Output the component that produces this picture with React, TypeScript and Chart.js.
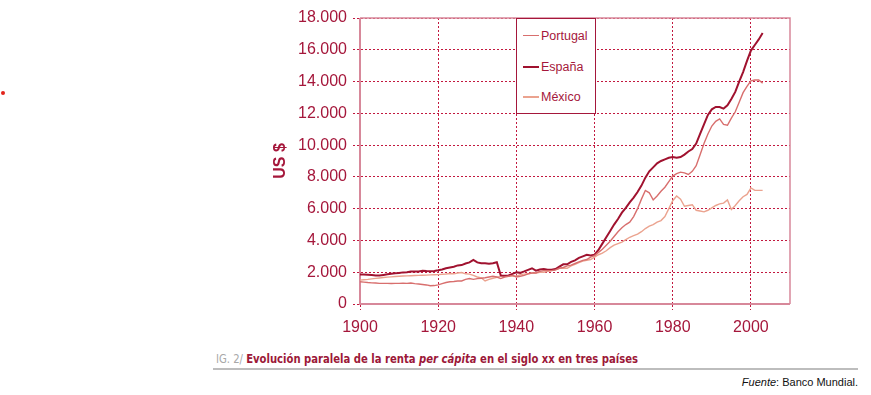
import React, { useEffect, useRef } from "react";
import { Chart, registerables } from "chart.js";

Chart.register(...registerables);

const years: number[] = Array.from({ length: 104 }, (_, i) => 1900 + i);

const espana: number[] = [
  1850, 1860, 1840, 1820, 1800, 1790, 1830, 1870, 1910, 1940,
  1950, 1990, 2000, 2040, 2050, 2050, 2090, 2070, 2060, 2080,
  2120, 2170, 2250, 2300, 2350, 2430, 2450, 2550, 2620, 2780,
  2620, 2560, 2560, 2530, 2560, 2630, 1800, 1780, 1800, 1900,
  1990, 1960, 2050, 2150, 2250, 2100, 2170, 2200, 2150, 2150,
  2200, 2350, 2500, 2500, 2650, 2750, 2900, 3000, 3100, 3050,
  3100, 3400, 3800, 4200, 4600, 5000, 5350, 5750, 6050, 6400,
  6700, 7050, 7450, 7950, 8350, 8600, 8850, 9000, 9100, 9200,
  9250, 9200, 9250, 9400, 9600, 9750, 10100, 10700, 11300, 11900,
  12250, 12400, 12400, 12300, 12500, 12900, 13350, 14000, 14600, 15300,
  15950, 16300, 16650, 17050,
];

const portugal: number[] = [
  1400, 1380, 1350, 1330, 1320, 1300, 1300, 1300, 1290, 1300,
  1300, 1310, 1300, 1320, 1280, 1260, 1230, 1200, 1150, 1160,
  1200, 1280, 1350, 1400, 1420, 1450, 1450, 1550, 1600, 1550,
  1600, 1620, 1650, 1700, 1750, 1700, 1600, 1700, 1750, 1800,
  1700, 1750, 1800, 1900, 1950, 1950, 2050, 2100, 2100, 2100,
  2150, 2250, 2300, 2400, 2450, 2550, 2650, 2750, 2800, 2950,
  3050, 3250, 3450, 3700, 3950, 4250, 4550, 4800, 5000, 5150,
  5500, 6000, 6600, 7150, 7000, 6550, 6800, 7100, 7350, 7700,
  8050, 8200, 8300, 8250, 8150, 8350, 8700, 9400, 10100, 10700,
  11200, 11500, 11650, 11300, 11250, 11700, 12100, 12700, 13300, 13700,
  14050, 14100, 14100, 13900,
];

const mexico: number[] = [
  1500, 1530, 1550, 1580, 1610, 1640, 1670, 1690, 1710, 1730,
  1750, 1760, 1770, 1780, 1790, 1800, 1810, 1820, 1830, 1840,
  1850, 1870, 1890, 1920, 1900, 1950, 1980, 1900, 1880, 1800,
  1700, 1650, 1450, 1550, 1620, 1680, 1750, 1780, 1750, 1780,
  1750, 1850, 1880, 1900, 1950, 1950, 2000, 2000, 2050, 2100,
  2150, 2250, 2250, 2250, 2400, 2500, 2600, 2700, 2750, 2800,
  2950, 3100, 3200, 3350, 3550, 3700, 3800, 3900, 4050, 4200,
  4300, 4400, 4550, 4750, 4900, 5000, 5150, 5250, 5500, 6000,
  6500, 6800, 6600, 6150, 6200, 6250, 5900, 5850, 5800, 5900,
  6050, 6200, 6300, 6350, 6550, 5950, 6200, 6500, 6750, 6900,
  7300, 7150, 7150, 7150,
];

const seriesNames = ["Portugal", "España", "México"];
const xTickYears = [1900, 1920, 1940, 1960, 1980, 2000];

const DARK = "#a5173b";
const GRID = "#c2183f";
const FRAME = "#d7889a";
const C_PT = "#d86f6e";
const C_ES = "#a0122f";
const C_MX = "#eba38f";

const FONT = "'Liberation Sans', Arial, sans-serif";

function fmt(v: number): string {
  return String(v).replace(/\B(?=(\d{3})+(?!\d))/g, ".");
}

const framePlugin = {
  id: "frame",
  beforeDatasetsDraw(chart: any) {
    const { ctx, chartArea } = chart;
    const { left, right, top, bottom } = chartArea;
    ctx.save();
    ctx.setLineDash([]);
    ctx.strokeStyle = FRAME;
    ctx.lineWidth = 1.5;
    ctx.beginPath();
    ctx.moveTo(left, top);
    ctx.lineTo(right, top);
    ctx.lineTo(right, bottom);
    ctx.stroke();
    ctx.lineWidth = 2;
    ctx.beginPath();
    ctx.moveTo(left, top);
    ctx.lineTo(left, bottom);
    ctx.lineTo(right, bottom);
    ctx.stroke();
    ctx.restore();
  },
};

function ChartCanvas() {
  const ref = useRef<HTMLCanvasElement | null>(null);
  useEffect(() => {
    if (!ref.current) return;
    const mk = (vals: number[]) => years.map((y, i) => ({ x: y, y: vals[i] }));
    const chart = new Chart(ref.current, {
      type: "line",
      data: {
        datasets: [
          { label: seriesNames[0], data: mk(portugal), borderColor: C_PT, borderWidth: 1.4, pointRadius: 0, tension: 0 },
          { label: seriesNames[1], data: mk(espana), borderColor: C_ES, borderWidth: 2, pointRadius: 0, tension: 0 },
          { label: seriesNames[2], data: mk(mexico), borderColor: C_MX, borderWidth: 1.4, pointRadius: 0, tension: 0 },
        ],
      },
      options: {
        animation: false,
        responsive: false,
        devicePixelRatio: 1,
        layout: { padding: { left: 11, top: 18, right: 10, bottom: 0 } },
        plugins: { legend: { display: false }, tooltip: { enabled: false } },
        scales: {
          x: {
            type: "linear",
            min: 1900,
            max: 2010,
            afterBuildTicks: (scale: any) => {
              scale.ticks = xTickYears.map((v) => ({ value: v }));
            },
            afterFit: (scale: any) => {
              scale.height = 41;
            },
            ticks: {
              color: DARK,
              font: { family: FONT, size: 16 },
              padding: 8,
              maxRotation: 0,
              callback: (v: any) => String(v),
            },
            grid: {
              color: GRID,
              lineWidth: 1,
              tickLength: 6,
              tickColor: GRID,
              borderDash: [2, 2],
              tickBorderDash: [2, 2],
            } as any,
            border: { display: true, dash: [2, 2], color: "rgba(0,0,0,0)", width: 1 } as any,
          },
          y: {
            min: 0,
            max: 18000,
            afterFit: (scale: any) => {
              scale.width = 89;
            },
            ticks: {
              stepSize: 2000,
              color: DARK,
              font: { family: FONT, size: 16 },
              padding: 6,
              callback: (v: any) => fmt(Number(v)),
            },
            grid: {
              color: GRID,
              lineWidth: 1,
              tickLength: 7,
              tickColor: GRID,
              borderDash: [2, 2],
              tickBorderDash: [2, 2],
            } as any,
            border: { display: true, dash: [2, 2], color: "rgba(0,0,0,0)", width: 1 } as any,
            title: {
              display: true,
              text: "US $",
              color: DARK,
              font: { family: FONT, size: 16, weight: "bold" },
              padding: { top: 0, bottom: 0 },
            },
          },
        },
      },
      plugins: [framePlugin],
    } as any);
    return () => chart.destroy();
  }, []);
  return (
    <canvas
      ref={ref}
      width={540}
      height={345}
      style={{ position: "absolute", left: 260, top: 0, width: 540, height: 345 }}
    />
  );
}

export default function App() {
  const legendItems = [
    { name: seriesNames[0], color: C_PT, w: 1.5, top: 35.5 },
    { name: seriesNames[1], color: C_ES, w: 2, top: 66.5 },
    { name: seriesNames[2], color: C_MX, w: 1.5, top: 97 },
  ];
  return (
    <div style={{ position: "absolute", left: 0, top: 0, width: 871, height: 395, background: "#fff", overflow: "hidden" }}>
      <div style={{ position: "absolute", left: 1, top: 91, width: 4, height: 4, borderRadius: 2, background: "#e2231a" }} />
      <ChartCanvas />
      <div
        style={{
          position: "absolute",
          left: 515.5,
          top: 18,
          width: 78,
          height: 93.5,
          border: `1.5px solid ${DARK}`,
          background: "#fff",
        }}
      />
      {legendItems.map((it) => (
        <React.Fragment key={it.name}>
          <div style={{ position: "absolute", left: 523, top: it.top - it.w / 2, width: 16, height: it.w, background: it.color }} />
          <div
            style={{
              position: "absolute",
              left: 541,
              top: it.top - 8,
              height: 16,
              lineHeight: "16px",
              fontFamily: FONT,
              fontSize: 12.5,
              color: DARK,
              whiteSpace: "nowrap",
            }}
          >
            {it.name}
          </div>
        </React.Fragment>
      ))}
      <div
        style={{
          position: "absolute",
          left: 216,
          top: 351,
          height: 16,
          lineHeight: "16px",
          fontFamily: "'DejaVu Sans Condensed', 'Liberation Sans', Arial, sans-serif",
          fontStretch: "condensed",
          fontSize: 13,
          whiteSpace: "nowrap",
          transform: "scaleX(0.86)",
          transformOrigin: "0 50%",
        }}
      >
        <span style={{ color: "#a8a8a8" }}>IG. 2/ </span>
        <span style={{ color: "#9c1838", fontWeight: "bold" }}>
          Evolución paralela de la renta <i>per cápita</i> en el siglo xx en tres países
        </span>
      </div>
      <div style={{ position: "absolute", left: 213, top: 367.5, width: 645, height: 2, background: "#bdbdbd" }} />
      <div
        style={{
          position: "absolute",
          right: 13,
          top: 375,
          height: 14,
          lineHeight: "14px",
          fontFamily: FONT,
          fontSize: 11,
          color: "#111",
          whiteSpace: "nowrap",
        }}
      >
        <i>Fuente</i>: Banco Mundial.
      </div>
    </div>
  );
}
